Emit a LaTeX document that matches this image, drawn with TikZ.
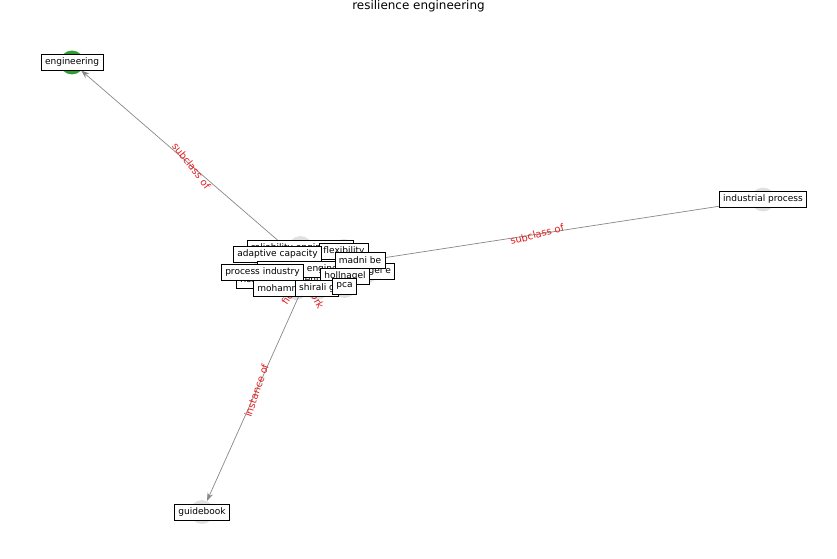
\documentclass[tikz,border=0pt]{standalone}
\usepackage{fontspec}
\setmainfont{DejaVu Sans}
\usetikzlibrary{arrows.meta}
\definecolor{edgegray}{RGB}{136,136,136}
\definecolor{nodegray}{RGB}{224,224,224}
\definecolor{nodegreen}{RGB}{44,160,44}
\definecolor{labelred}{RGB}{228,30,30}

\begin{document}
\begin{tikzpicture}[x=0.03cm, y=-0.03cm,
    dot/.style={circle, fill=nodegray, minimum size=20.4pt, inner sep=0pt},
    box/.style={draw=black, fill=white, line width=0.6pt, inner xsep=3.3pt, inner ysep=0pt, minimum height=13.7pt, font=\fontsize{7.7}{9}\selectfont},
    rel/.style={text=labelred, font=\fontsize{8.5}{10}\selectfont, inner sep=0pt},
    edge/.style={draw=edgegray, line width=0.6pt, -{Stealth[length=7pt, width=5pt]}}]
    \useasboundingbox (0,0) rectangle (837,559);

    \node[font=\fontsize{10.2}{12}\selectfont] (title) at (418.5,6) {resilience engineering};

    % nodes
    \node[dot, fill=nodegreen] (eng) at (72,62.5) {};
    \node[dot] (ind) at (763,199.5) {};
    \node[dot] (guide) at (202,512) {};
    \node[dot] (reli) at (300.5,248) {};
    \node[dot] (risk) at (280,280) {};
    \node[dot] (flex) at (344,251) {};
    \node[dot] (adapt) at (277.5,254) {};
    \node[dot] (re) at (311,269) {};
    \node[dot] (hole) at (366,271.5) {};
    \node[dot] (holl) at (345,276.5) {};
    \node[dot] (madni) at (360,260.5) {};
    \node[dot] (proc) at (262.5,272) {};
    \node[dot] (moh) at (296,288) {};
    \node[dot] (shi) at (317,288) {};
    \node[dot] (pca) at (344.5,286) {};

    % edges
    \draw[edge] (re) to node[rel, rotate=-52] {subclass of} (eng);
    \draw[edge] (re) to node[rel, rotate=15] {subclass of} (ind);
    \draw[edge] (re) to node[rel, rotate=71] {instance of} (guide);

    %\draw (re) -- (moh);
    \node[rel, rotate=56] (fw1) at (301,278) {field of work};
    \node[rel, rotate=-62] (fw2) at (307,281) {field of work};

    % labels
    \node[box] (engL) at (eng) {engineering};
    \node[box] (indL) at (ind) {industrial process};
    \node[box] (guideL) at (guide) {guidebook};
    \node[box] (reliL) at (reli) {reliability engineering};
    \node[box] (riskL) at (risk) {risk management};
    \node[box] (flexL) at (flex) {flexibility};
    \node[box] (adaptL) at (adapt) {adaptive capacity};
    \node[box] (reL) at (re) {resilience engineering};
    \node[box] (holeL) at (hole) {hollnagel e};
    \node[box] (hollL) at (holl) {hollnagel};
    \node[box] (madniL) at (madni) {madni be};
    \node[box] (procL) at (proc) {process industry};
    \node[box] (mohL) at (moh) {mohammadfam i};
    \node[box] (shiL) at (shi) {shirali g};
    \node[box] (pcaL) at (pca) {pca};
\end{tikzpicture}
\end{document}
